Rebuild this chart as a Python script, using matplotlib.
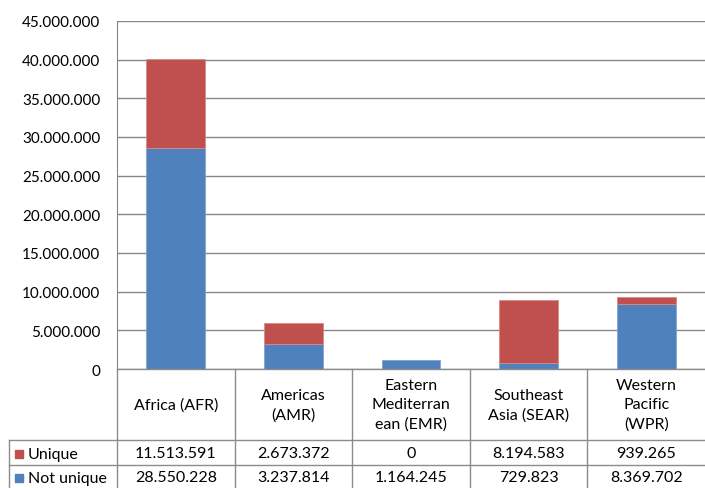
import matplotlib
matplotlib.use("Agg")
import matplotlib.pyplot as plt

plt.rcParams['font.family'] = ['Lato', 'DejaVu Sans']

# data
regions = ["Africa (AFR)", "Americas\n(AMR)", "Eastern\nMediterran\nean (EMR)",
           "Southeast\nAsia (SEAR)", "Western\nPacific\n(WPR)"]
not_unique = [28550228, 3237814, 1164245, 729823, 8369702]
unique = [11513591, 2673372, 0, 8194583, 939265]
series_names = ["Unique", "Not unique"]

blue = "#4F81BD"
red = "#C0504D"
grid = "#868686"

W, H = 705, 489
fig = plt.figure(figsize=(W / 100, H / 100), dpi=100)


def fmt(v):
    return f"{v:,}".replace(",", ".")


# plot area in pixel coords
left, right, top, bottom = 117, 705, 22, 370
ax = fig.add_axes([left / W, 1 - bottom / H, (right - left) / W, (bottom - top) / H])
x = range(len(regions))
ax.bar(x, not_unique, width=0.5, color=blue, edgecolor="#7FA3D0", linewidth=0.6, zorder=3)
ax.bar(x, unique, bottom=not_unique, width=0.5, color=red, edgecolor="#D98A88",
       linewidth=[0.6 if v > 0 else 0 for v in unique], zorder=3)
ax.set_xlim(-0.5, len(regions) - 0.5)
ax.set_ylim(0, 45000000)
ax.set_yticks(range(0, 45000001, 5000000))
ax.set_yticklabels([fmt(v) for v in range(0, 45000001, 5000000)], fontsize=11)
ax.tick_params(axis="y", length=0, pad=12)
ax.set_xticks([])
ax.grid(axis="y", color=grid, linewidth=1, zorder=0)
for s in ["top", "right", "bottom"]:
    ax.spines[s].set_visible(False)
ax.spines["left"].set_color(grid)

# data table drawn in pixel coordinates
tab = fig.add_axes([0, 0, 1, 1])
tab.set_xlim(0, W)
tab.set_ylim(H, 0)
tab.axis("off")
cols = [117, 234.6, 352.2, 469.8, 587.4, 705]
y_head, y_r1, y_r2, y_end = 370, 441, 466, 495
lc = "#8C8C8C"
tab.plot([left, W], [y_head, y_head], color=lc, lw=1)
for c in cols[:-1]:
    tab.plot([c, c], [y_head, y_end], color=lc, lw=1)
tab.plot([9, W], [y_r1, y_r1], color=lc, lw=1)
tab.plot([9, W], [y_r2, y_r2], color=lc, lw=1)
tab.plot([9, 9], [y_r1, y_end], color=lc, lw=1)

fs = 11.5
for i, name in enumerate(regions):
    cx = (cols[i] + cols[i + 1]) / 2
    tab.text(cx, (y_head + y_r1) / 2, name, ha="center", va="center",
             fontsize=fs, linespacing=1.45)
    tab.text(cx, (y_r1 + y_r2) / 2 + 1, fmt(unique[i]), ha="center", va="center", fontsize=fs)
    tab.text(cx, (y_r2 + y_end) / 2 - 2, fmt(not_unique[i]), ha="center", va="center", fontsize=fs)

for yc, nm, col in [((y_r1 + y_r2) / 2 + 1, series_names[0], red),
                    ((y_r2 + y_end) / 2 - 2, series_names[1], blue)]:
    tab.add_patch(plt.Rectangle((15, yc - 4), 8, 8, color=col))
    tab.text(28, yc, nm, ha="left", va="center", fontsize=fs)

fig.savefig("out.png", dpi=100)
